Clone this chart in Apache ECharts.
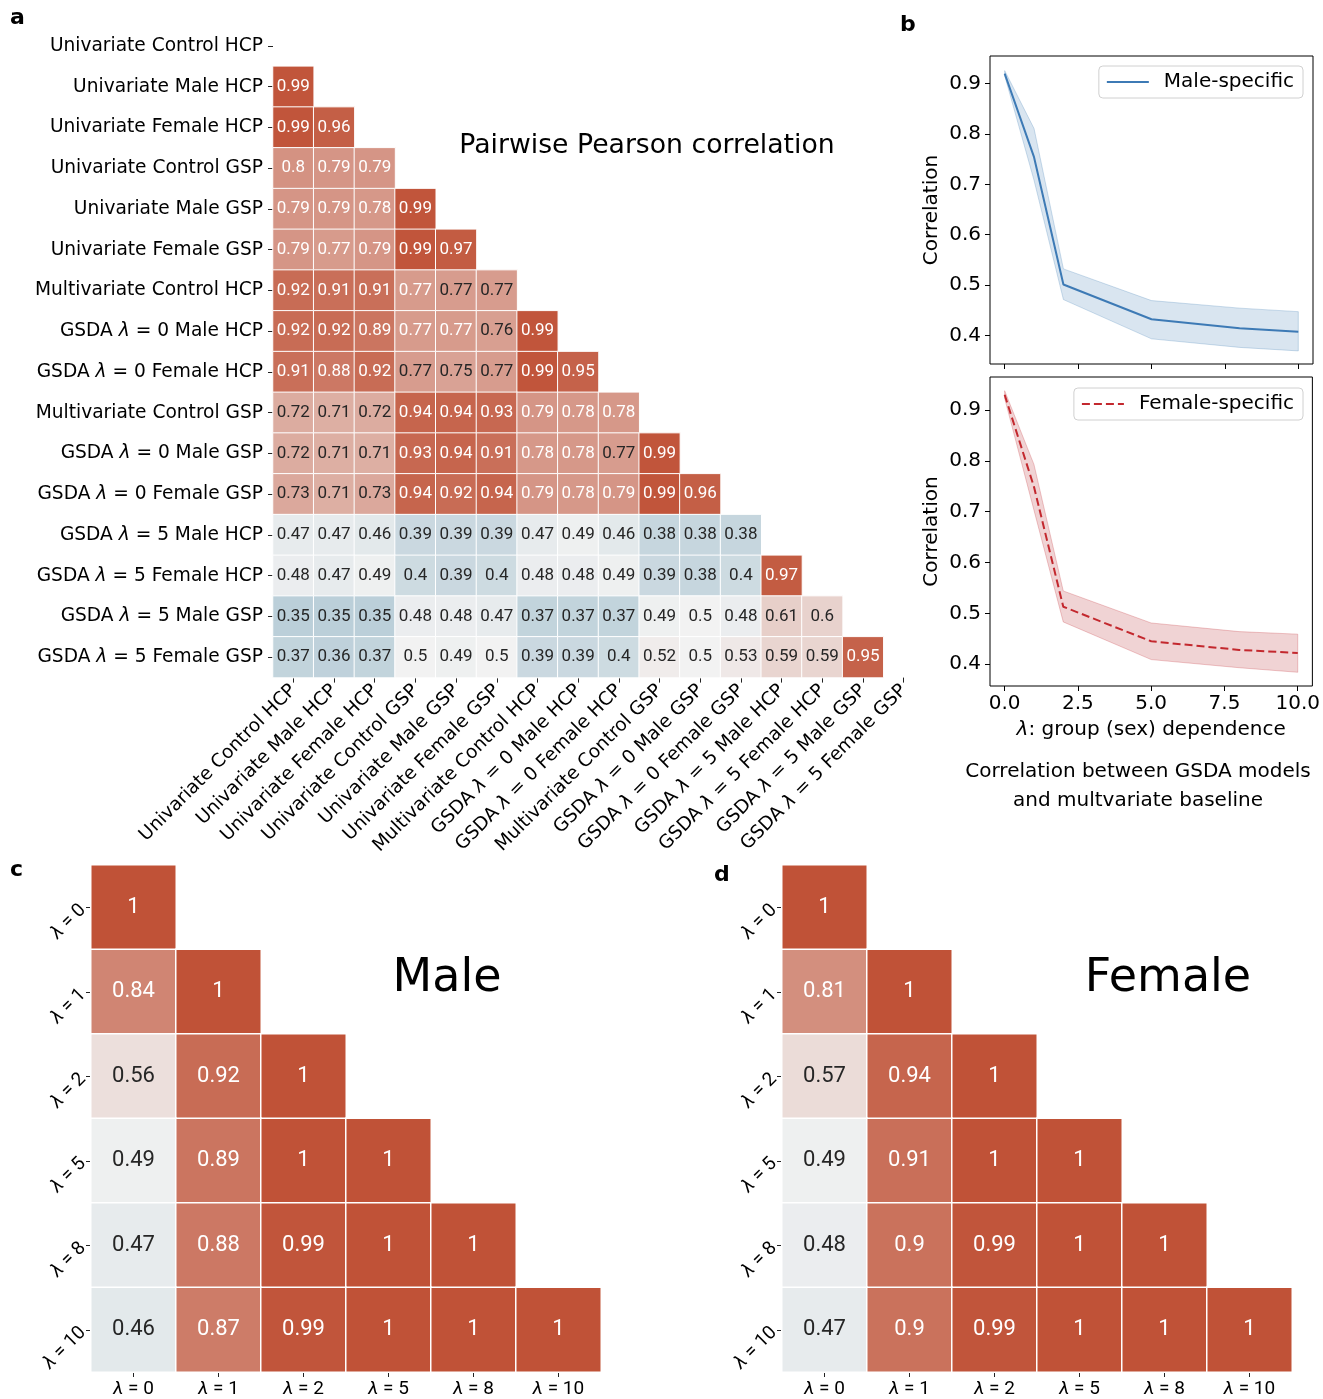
<!DOCTYPE html>
<html><head><meta charset="utf-8">
<script src="https://cdn.jsdelivr.net/npm/echarts@6/dist/echarts.min.js"></script>
<style>html,body{margin:0;background:#fff}#c{width:1323px;height:1399px}</style>
</head><body><div id="c"></div>
<script>
// ---------- data ----------
const pairLabels = ['Univariate Control HCP','Univariate Male HCP','Univariate Female HCP','Univariate Control GSP','Univariate Male GSP','Univariate Female GSP','Multivariate Control HCP','GSDA λ = 0 Male HCP','GSDA λ = 0 Female HCP','Multivariate Control GSP','GSDA λ = 0 Male GSP','GSDA λ = 0 Female GSP','GSDA λ = 5 Male HCP','GSDA λ = 5 Female HCP','GSDA λ = 5 Male GSP','GSDA λ = 5 Female GSP'];
const pairRows = [
  [],
  [0.99],
  [0.99, 0.96],
  [0.8, 0.79, 0.79],
  [0.79, 0.79, 0.78, 0.99],
  [0.79, 0.772, 0.79, 0.99, 0.97],
  [0.92, 0.91, 0.91, 0.772, 0.768, 0.768],
  [0.92, 0.92, 0.89, 0.772, 0.772, 0.76, 0.99],
  [0.91, 0.88, 0.92, 0.768, 0.75, 0.768, 0.99, 0.95],
  [0.72, 0.71, 0.72, 0.94, 0.94, 0.93, 0.79, 0.78, 0.78],
  [0.72, 0.71, 0.71, 0.93, 0.94, 0.91, 0.78, 0.78, 0.768, 0.99],
  [0.73, 0.71, 0.73, 0.94, 0.92, 0.94, 0.79, 0.78, 0.79, 0.99, 0.96],
  [0.47, 0.47, 0.46, 0.39, 0.39, 0.39, 0.47, 0.49, 0.46, 0.38, 0.38, 0.38],
  [0.48, 0.47, 0.49, 0.4, 0.39, 0.4, 0.48, 0.48, 0.49, 0.39, 0.38, 0.4, 0.97],
  [0.35, 0.35, 0.35, 0.48, 0.48, 0.47, 0.37, 0.37, 0.37, 0.49, 0.5, 0.48, 0.61, 0.6],
  [0.37, 0.36, 0.37, 0.5, 0.49, 0.5, 0.39, 0.39, 0.4, 0.52, 0.5, 0.53, 0.59, 0.59, 0.95]
];
const lambdaLabels = ['λ = 0','λ = 1','λ = 2','λ = 5','λ = 8','λ = 10'];
const maleRows = [
  [1],
  [0.84, 1],
  [0.56, 0.92, 1],
  [0.49, 0.89, 1, 1],
  [0.47, 0.88, 0.99, 1, 1],
  [0.46, 0.87, 0.99, 1, 1, 1]
];
const femaleRows = [
  [1],
  [0.81, 1],
  [0.57, 0.94, 1],
  [0.49, 0.91, 1, 1],
  [0.48, 0.9, 0.99, 1, 1],
  [0.47, 0.9, 0.99, 1, 1, 1]
];
const lambdaX = [0, 1, 2, 5, 8, 10];
const maleMean = [0.920, 0.754, 0.501, 0.432, 0.414, 0.407];
const maleLow  = [0.916, 0.708, 0.471, 0.393, 0.376, 0.369];
const maleHigh = [0.926, 0.811, 0.532, 0.469, 0.454, 0.447];
const femaleMean = [0.930, 0.749, 0.513, 0.445, 0.428, 0.422];
const femaleLow  = [0.923, 0.703, 0.483, 0.409, 0.393, 0.384];
const femaleHigh = [0.938, 0.793, 0.544, 0.481, 0.464, 0.459];
const yTicks = [0.4, 0.5, 0.6, 0.7, 0.8, 0.9];
const xTicks = [0, 2.5, 5, 7.5, 10];

// ---------- helpers ----------
const SANS = 'DejaVu Sans';
const NUM = '"Liberation Sans Narrow", Roboto, sans-serif';
const fmt = v => String(Number(v.toPrecision(2)));
function cells(rows) {
  const out = [];
  rows.forEach((r, i) => r.forEach((v, j) => out.push({
    value: [j, i, v],
    label: { color: v >= 0.77 ? '#ffffff' : '#262626' }
  })));
  return out;
}
const lam = s => s.replace('λ', '{i|λ}');
function richI(size, fam) { return { i: { fontStyle: 'italic', fontSize: size, fontFamily: fam, color: '#000' } }; }
function xy(xs, ys) { return xs.map((x, i) => [x, ys[i]]); }

const catAxisBase = (gi, data, opts) => Object.assign({
  type: 'category', gridIndex: gi, data: data,
  axisLine: { show: false },
  axisTick: { show: true, alignWithLabel: true, length: 5, lineStyle: { color: '#222' } },
  splitLine: { show: false }
}, opts);

function heat(gi, rows, size, bw) {
  return {
    type: 'heatmap', xAxisIndex: gi, yAxisIndex: gi, data: cells(rows),
    itemStyle: { borderColor: '#ffffff', borderWidth: bw },
    label: { show: true, fontSize: size, fontFamily: NUM, formatter: p => fmt(p.value[2]) },
    emphasis: { disabled: true }, silent: true
  };
}

function valueX(gi, showLabels, name) {
  return {
    type: 'value', gridIndex: gi, min: -0.5, max: 10.5,
    axisLine: { show: false, onZero: false }, splitLine: { show: false },
    axisTick: { show: true, length: 5, customValues: xTicks, lineStyle: { color: '#000' } },
    axisLabel: { show: showLabels, customValues: xTicks, fontSize: 20, fontFamily: SANS, color: '#000', margin: 8, formatter: v => v.toFixed(1) },
    name: name || '', nameLocation: 'middle', nameGap: 34,
    nameTextStyle: { fontSize: 20, fontFamily: SANS, color: '#000', rich: richI(20, SANS) }
  };
}
function valueY(gi, mn, mx) {
  return {
    type: 'value', gridIndex: gi, min: mn, max: mx,
    axisLine: { show: false, onZero: false }, splitLine: { show: false },
    axisTick: { show: true, length: 5, customValues: yTicks, lineStyle: { color: '#000' } },
    axisLabel: { customValues: yTicks, fontSize: 20, fontFamily: SANS, color: '#000', margin: 9, formatter: v => v.toFixed(1) },
    name: 'Correlation', nameLocation: 'middle', nameGap: 48,
    nameTextStyle: { fontSize: 20, fontFamily: SANS, color: '#000' }
  };
}
function band(gi, lo, hi, fill, edge) {
  return {
    type: 'custom', coordinateSystem: 'cartesian2d', xAxisIndex: gi, yAxisIndex: gi, silent: true,
    data: lambdaX.map((x, i) => [x, lo[i], hi[i]]),
    encode: { x: 0, y: [1, 2] },
    renderItem: function (params, api) {
      if (params.dataIndex !== 0) return null;
      const pts = [];
      for (let i = 0; i < lambdaX.length; i++) pts.push(api.coord([lambdaX[i], hi[i]]));
      for (let i = lambdaX.length - 1; i >= 0; i--) pts.push(api.coord([lambdaX[i], lo[i]]));
      return { type: 'polygon', shape: { points: pts }, style: { fill: fill, stroke: edge, lineWidth: 1 } };
    }
  };
}

const MALE = '#3D7AB5', FEMALE = '#C3282E';
const legendBase = {
  itemWidth: 42, itemHeight: 14, right: 20,
  padding: [6, 9, 6, 7], borderColor: '#d0d0d0', borderWidth: 1, borderRadius: 4, backgroundColor: '#fff',
  itemStyle: { opacity: 0 },
  textStyle: { fontSize: 20, fontFamily: SANS, color: '#000', padding: [0, 0, 0, 10] }
};

const option = {
  animation: false,
  grid: [
    { left: 273, top: 25.6, width: 651, height: 652 },
    { left: 91, top: 865, width: 510, height: 510 },
    { left: 782, top: 865, width: 510, height: 510 },
    { left: 990, top: 56, width: 323, height: 308, show: true, borderColor: '#000', borderWidth: 1, backgroundColor: 'transparent' },
    { left: 990, top: 377, width: 323, height: 309, show: true, borderColor: '#000', borderWidth: 1, backgroundColor: 'transparent' }
  ],
  xAxis: [
    catAxisBase(0, pairLabels, { axisLabel: { interval: 0, rotate: 45, fontSize: 18.6, fontFamily: SANS, color: '#000', margin: 10, formatter: lam, rich: richI(18.6, SANS) } }),
    catAxisBase(1, lambdaLabels, { axisLabel: { interval: 0, fontSize: 19, fontFamily: NUM, color: '#000', margin: 8, formatter: lam, rich: richI(19, NUM) } }),
    catAxisBase(2, lambdaLabels, { axisLabel: { interval: 0, fontSize: 19, fontFamily: NUM, color: '#000', margin: 8, formatter: lam, rich: richI(19, NUM) } }),
    valueX(3, false),
    valueX(4, true, '{i|λ}: group (sex) dependence')
  ],
  yAxis: [
    catAxisBase(0, pairLabels, { inverse: true, axisLabel: { interval: 0, fontSize: 18.6, fontFamily: SANS, color: '#000', margin: 10, formatter: lam, rich: richI(18.6, SANS) } }),
    catAxisBase(1, lambdaLabels, { inverse: true, axisLabel: { interval: 0, rotate: 45, fontSize: 19, fontFamily: NUM, color: '#000', margin: 8, formatter: lam, rich: richI(19, NUM) } }),
    catAxisBase(2, lambdaLabels, { inverse: true, axisLabel: { interval: 0, rotate: 45, fontSize: 19, fontFamily: NUM, color: '#000', margin: 8, formatter: lam, rich: richI(19, NUM) } }),
    valueY(3, 0.343, 0.955),
    valueY(4, 0.357, 0.965)
  ],
  visualMap: {
    show: false, min: 0, max: 1, dimension: 2, seriesIndex: [0, 1, 2],
    inRange: { color: ['#3B7D9F', '#F2F2F2', '#C05237'] }
  },
  legend: [
    Object.assign({}, legendBase, { data: ['Male-specific'], top: 66 }),
    Object.assign({}, legendBase, { data: ['Female-specific'], top: 388 })
  ],
  series: [
    heat(0, pairRows, 17, 1),
    heat(1, maleRows, 22, 1.5),
    heat(2, femaleRows, 22, 1.5),
    band(3, maleLow, maleHigh, '#D9E5F0', 'rgba(61,122,181,0.25)'),
    { type: 'line', name: 'Male-specific', xAxisIndex: 3, yAxisIndex: 3, data: xy(lambdaX, maleMean),
      symbol: 'none', lineStyle: { color: MALE, width: 2 }, itemStyle: { color: MALE } },
    band(4, femaleLow, femaleHigh, '#F0D3D4', 'rgba(195,40,46,0.25)'),
    { type: 'line', name: 'Female-specific', xAxisIndex: 4, yAxisIndex: 4, data: xy(lambdaX, femaleMean),
      symbol: 'none', lineStyle: { color: FEMALE, width: 2, type: [8, 4] }, itemStyle: { color: FEMALE } }
  ],
  graphic: [
    { type: 'text', left: 10, top: 7, style: { text: 'a', font: 'bold 22px "DejaVu Sans"', fill: '#000' } },
    { type: 'text', left: 900, top: 14, style: { text: 'b', font: 'bold 22px "DejaVu Sans"', fill: '#000' } },
    { type: 'text', left: 10, top: 859, style: { text: 'c', font: 'bold 22px "DejaVu Sans"', fill: '#000' } },
    { type: 'text', left: 714, top: 864, style: { text: 'd', font: 'bold 22px "DejaVu Sans"', fill: '#000' } },
    { type: 'text', x: 647, y: 146, style: { text: 'Pairwise Pearson correlation', font: '26.7px "DejaVu Sans"', fill: '#000', textAlign: 'center', textVerticalAlign: 'middle', align: 'center', verticalAlign: 'middle' } },
    { type: 'text', x: 1138, y: 786, style: { text: 'Correlation between GSDA models\nand multvariate baseline', font: '20px "DejaVu Sans"', lineHeight: 29, fill: '#000', textAlign: 'center', textVerticalAlign: 'middle', align: 'center', verticalAlign: 'middle' } },
    { type: 'text', x: 447, y: 979, style: { text: 'Male', font: '46px "DejaVu Sans"', fill: '#000', textAlign: 'center', textVerticalAlign: 'middle', align: 'center', verticalAlign: 'middle' } },
    { type: 'text', x: 1168, y: 979, style: { text: 'Female', font: '46px "DejaVu Sans"', fill: '#000', textAlign: 'center', textVerticalAlign: 'middle', align: 'center', verticalAlign: 'middle' } }
  ]
};
echarts.init(document.getElementById('c')).setOption(option);
</script>
</body></html>
